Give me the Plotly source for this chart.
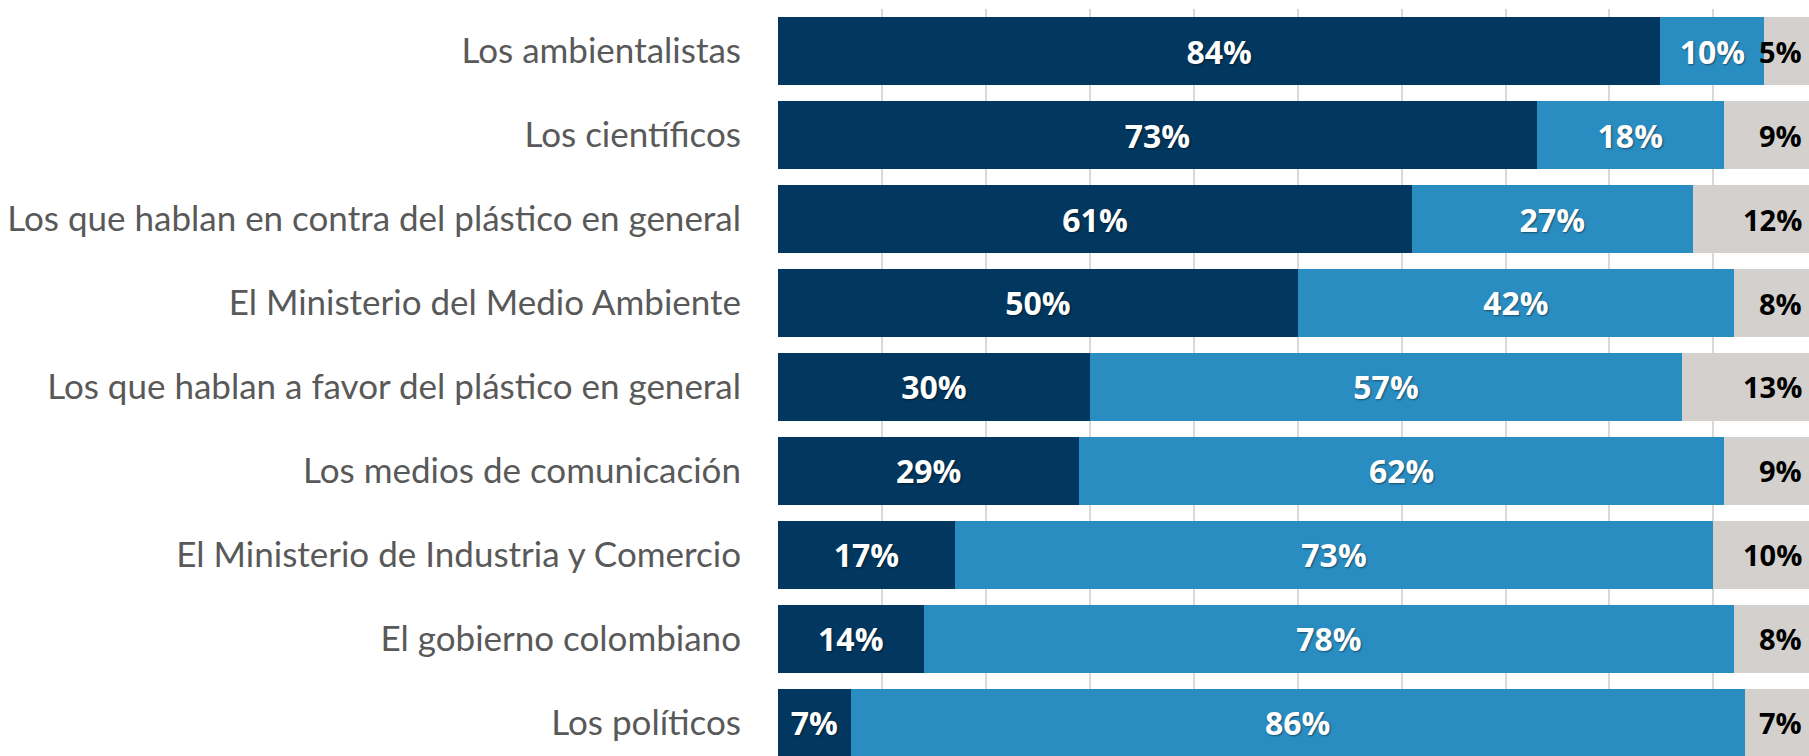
import plotly.graph_objects as go

categories = [
    "Los ambientalistas",
    "Los científicos",
    "Los que hablan en contra del plástico en general",
    "El Ministerio del Medio Ambiente",
    "Los que hablan a favor del plástico en general",
    "Los medios de comunicación",
    "El Ministerio de Industria y Comercio",
    "El gobierno colombiano",
    "Los políticos",
]
dark_vals = [84.9, 73, 61, 50, 30, 29, 17, 14, 7]
dark_labels = ["84%", "73%", "61%", "50%", "30%", "29%", "17%", "14%", "7%"]
light_vals = [10, 18, 27, 42, 57, 62, 73, 78, 86]
light_labels = ["10%", "18%", "27%", "42%", "57%", "62%", "73%", "78%", "86%"]
grey_vals = [5, 9, 12, 8, 13, 9, 10, 8, 7]
grey_labels = ["5%", "9%", "12%", "8%", "13%", "9%", "10%", "8%", "7%"]

DARK = "#02375F"
LIGHT = "#2A8DC2"
GREY = "#D4D0CD"
shadow = "1px 1px 2px rgba(0,0,0,0.45)"
bar_font = dict(family="Open Sans", size=32, color="white", weight="bold", shadow=shadow)

fig = go.Figure()
fig.add_trace(go.Bar(
    y=categories, x=dark_vals, orientation="h", marker=dict(color=DARK, line=dict(width=0)),
    text=dark_labels, textposition="inside", insidetextanchor="middle",
    textfont=bar_font, hoverinfo="skip",
))
fig.add_trace(go.Bar(
    y=categories, x=light_vals, orientation="h", marker=dict(color=LIGHT, line=dict(width=0)),
    text=light_labels, textposition="inside", insidetextanchor="middle",
    textfont=bar_font, hoverinfo="skip",
))
fig.add_trace(go.Bar(
    y=categories, x=grey_vals, orientation="h", marker=dict(color=GREY, line=dict(width=0)),
    textposition="none", hoverinfo="skip",
))

for cat, lab in zip(categories, grey_labels):
    fig.add_annotation(
        x=1, xref="paper", y=cat, yref="y", text=lab, showarrow=False,
        xanchor="right", xshift=-5,
        font=dict(family="Open Sans", size=29, color="black", weight="bold"),
    )

fig.update_layout(
    barmode="stack",
    bargap=0.19,
    width=1809, height=756,
    margin=dict(l=778, r=0, t=9, b=0),
    paper_bgcolor="white", plot_bgcolor="white",
    showlegend=False,
    xaxis=dict(range=[0, 99.2], dtick=10, showgrid=True, gridcolor="#D9D9D9", gridwidth=2,
               showticklabels=False, zeroline=False, showline=False, fixedrange=True),
    yaxis=dict(range=[8.393, -0.5], showgrid=False, ticks="", ticklabelstandoff=36,
               tickfont=dict(family="Lato", size=35, color="#595959"), showline=False,
               fixedrange=True),
)

fig.write_html(
    "out.html",
    config={"displayModeBar": False},
    post_script="document.body.style.margin='0';document.body.style.overflow='hidden';",
)
